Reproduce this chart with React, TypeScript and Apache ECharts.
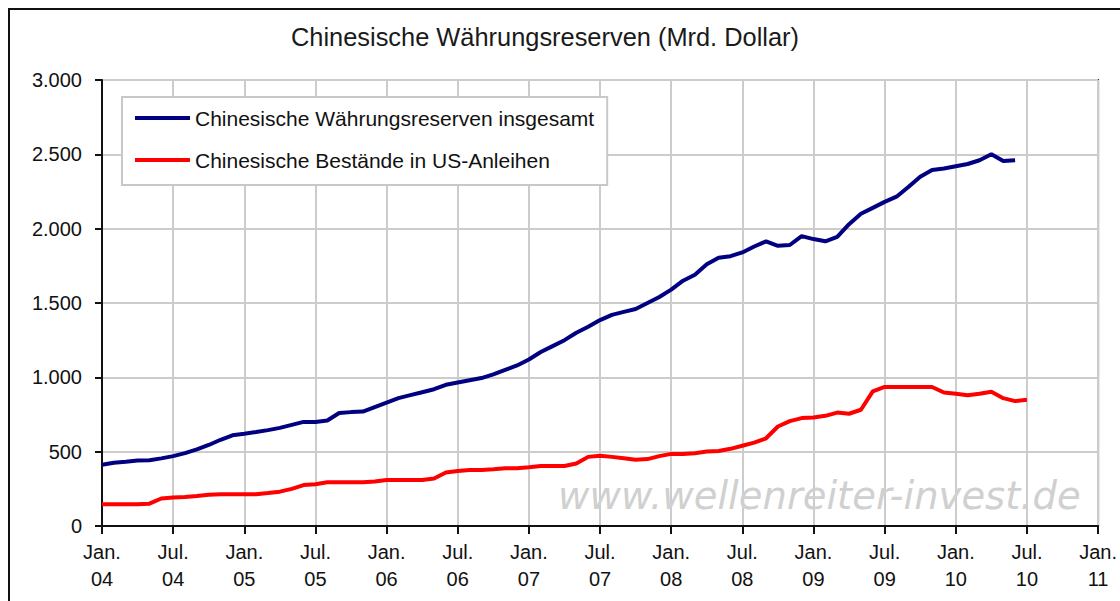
import React, { useEffect, useRef } from "react";
import * as echarts from "echarts";

// Months since Jan. 2004 (index 0 = Jan. 04)
const titleText = "Chinesische Währungsreserven (Mrd. Dollar)";
const seriesNames = [
  "Chinesische Währungsreserven insgesamt",
  "Chinesische Bestände in US-Anleihen",
];
const watermarkText = "www.wellenreiter-invest.de";

// Total reserves, monthly from Jan. 04
const reservesTotal = [
  412, 425, 432, 440, 442, 455, 470, 490, 515, 545, 580, 610,
  620, 632, 645, 660, 680, 700, 700, 710, 760, 766, 770, 800,
  830, 860, 880, 900, 920, 950, 965, 980, 995, 1020, 1050, 1080,
  1120, 1170, 1210, 1250, 1300, 1340, 1385, 1420, 1440, 1460, 1500, 1540,
  1590, 1650, 1690, 1760, 1805, 1815, 1840, 1880, 1915, 1885, 1890, 1950,
  1930, 1915, 1945, 2030, 2100, 2140, 2180, 2215, 2280, 2350, 2395, 2405,
  2420, 2435, 2460, 2500, 2455, 2460,
];

// US treasury holdings, monthly from Jan. 04
const usTreasuries = [
  146, 146, 146, 146, 150, 185, 191, 195, 202, 210, 214, 214,
  214, 214, 222, 231, 250, 275, 281, 294, 294, 294, 294, 300,
  310, 310, 310, 310, 320, 360, 370, 377, 377, 382, 389, 389,
  395, 404, 404, 404, 420, 465, 472, 465, 456, 445, 450, 470,
  485, 485, 490, 501, 505, 519, 540, 561, 590, 669, 705, 726,
  730, 741, 763, 755, 782, 905, 935, 935, 935, 935, 935, 898,
  889, 880, 889, 903, 860, 840, 849,
];

const monthLabels = ["Jan.", "Jul."];
const yTicks = [0, 500, 1000, 1500, 2000, 2500, 3000];

function fmtThousands(v: number): string {
  const s = String(Math.round(v));
  return s.replace(/\B(?=(\d{3})+(?!\d))/g, ".");
}

export default function App() {
  const ref = useRef<HTMLDivElement>(null);
  useEffect(() => {
    if (!ref.current) return;
    const chart = echarts.init(ref.current, null, { renderer: "svg" });
    const font = "'Liberation Sans', Arial, sans-serif";
    chart.setOption({
      animation: false,
      backgroundColor: "#ffffff",
      title: {
        text: titleText,
        left: 286,
        top: 19,
        textStyle: {
          fontFamily: font,
          fontSize: 25.4,
          fontWeight: "normal",
          color: "#1a1a1a",
        },
      },
      legend: {
        orient: "vertical",
        left: 122,
        top: 97,
        padding: [9, 13, 13, 13],
        itemGap: 18,
        itemWidth: 55,
        itemHeight: 4,
        icon: "rect",
        backgroundColor: "#ffffff",
        borderColor: "#c8c8c8",
        borderWidth: 2,
        textStyle: {
          fontFamily: font,
          fontSize: 21,
          color: "#111",
          lineHeight: 24,
        },
        data: seriesNames,
      },
      grid: {
        left: 102,
        right: 21,
        top: 80,
        bottom: 75,
        show: true,
        borderColor: "#222",
        borderWidth: 2,
      },
      xAxis: {
        type: "value",
        min: 0,
        max: 84,
        interval: 6,
        axisLine: { show: true, lineStyle: { color: "#111", width: 2 } },
        axisTick: { show: true, length: 8, lineStyle: { color: "#111", width: 2 } },
        splitLine: { show: true, lineStyle: { color: "#cccccc", width: 2 } },
        axisLabel: {
          showMinLabel: true,
          showMaxLabel: true,
          margin: 12,
          fontFamily: font,
          fontSize: 20,
          lineHeight: 27,
          color: "#111",
          formatter: (v: number) => {
            const m = Math.round(v);
            const label = monthLabels[(m % 12) / 6];
            const yr = 4 + Math.floor(m / 12);
            return label + "\n" + String(yr).padStart(2, "0");
          },
        },
      },
      yAxis: {
        type: "value",
        min: yTicks[0],
        max: yTicks[yTicks.length - 1],
        interval: 500,
        axisLine: { show: true, lineStyle: { color: "#111", width: 2 } },
        axisTick: { show: true, length: 7, lineStyle: { color: "#111", width: 2 } },
        splitLine: { show: true, lineStyle: { color: "#cccccc", width: 2 } },
        axisLabel: {
          margin: 20,
          fontFamily: font,
          fontSize: 20,
          color: "#111",
          formatter: (v: number) => fmtThousands(v),
        },
      },
      graphic: [
        {
          type: "text",
          x: 558,
          y: 495,
          z: 1,
          silent: true,
          style: {
            text: watermarkText,
            fontFamily: "'DejaVu Sans', sans-serif",
            fontStyle: "italic",
            fontSize: 38.5,
            fill: "#d0d0d0",
            textVerticalAlign: "middle",
          },
        },
        {
          type: "rect",
          z: 100,
          silent: true,
          shape: { x: 9, y: 9, width: 1200, height: 700 },
          style: { fill: "none", stroke: "#111", lineWidth: 2 },
        },
      ],
      series: [
        {
          name: seriesNames[0],
          type: "line",
          symbol: "none",
          z: 5,
          color: "#000080",
          lineStyle: { color: "#000080", width: 4 },
          data: reservesTotal.map((v, i) => [i, v]),
        },
        {
          name: seriesNames[1],
          type: "line",
          symbol: "none",
          z: 4,
          color: "#ff0000",
          lineStyle: { color: "#ff0000", width: 4 },
          data: usTreasuries.map((v, i) => [i, v]),
        },
      ],
    });
    return () => chart.dispose();
  }, []);
  return (
    <div
      ref={ref}
      style={{ position: "absolute", left: 0, top: 0, width: 1120, height: 601 }}
    />
  );
}
